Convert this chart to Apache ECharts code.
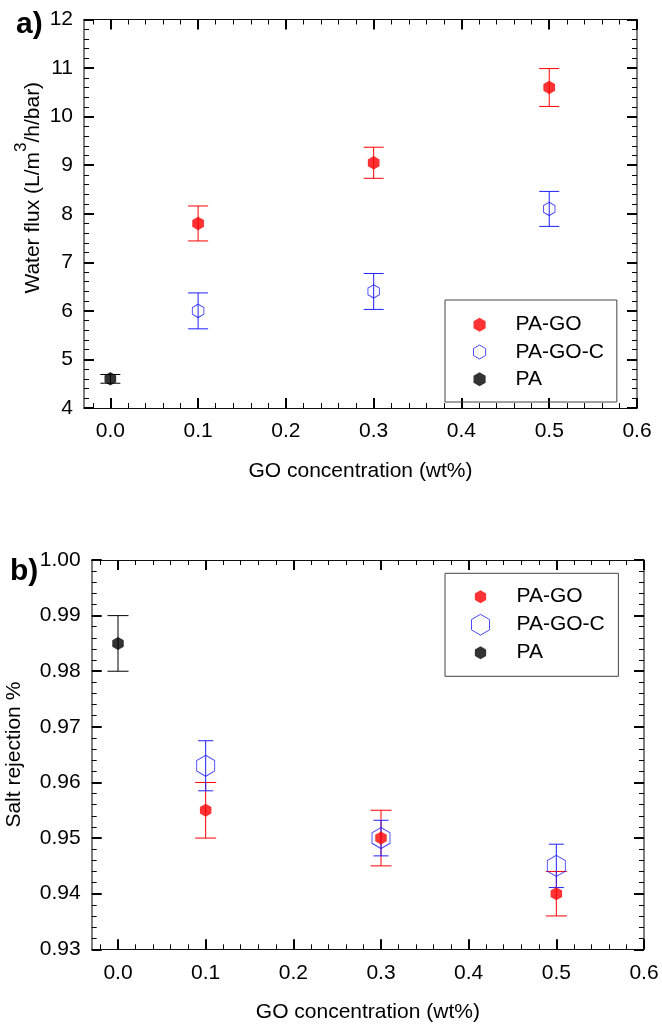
<!DOCTYPE html>
<html>
<head>
<meta charset="utf-8">
<script src="https://cdn.jsdelivr.net/npm/echarts@6/dist/echarts.min.js"></script>
<style>
html,body{margin:0;padding:0;background:#fff;}
#chart{width:662px;height:1026px;}
</style>
</head>
<body>
<div id="chart"></div>
<script>
// ---- data ----
const concGO = [0.1, 0.3, 0.5];
const concPA = [0.0];

// a) water flux
const fluxPAGO = [7.8, 9.05, 10.6];
const fluxPAGOErr = [0.36, 0.32, 0.39];
const fluxPAGOC = [6.0, 6.4, 8.1];
const fluxPAGOCErr = [0.37, 0.37, 0.36];
const fluxPA = [4.6];
const fluxPAErr = [0.09];

// b) salt rejection
const rejPAGO = [0.955, 0.950, 0.940];
const rejPAGOErr = [0.005, 0.005, 0.004];
const rejPAGOC = [0.963, 0.950, 0.945];
const rejPAGOCErr = [0.0045, 0.0032, 0.0039];
const rejPA = [0.985];
const rejPAErr = [0.005];

// ticks
const xMajorTicks = [0, 0.1, 0.2, 0.3, 0.4, 0.5, 0.6];
const xMinorTicks = [-0.02, 0.02, 0.04, 0.06, 0.08, 0.12, 0.14, 0.16, 0.18, 0.22, 0.24, 0.26, 0.28,
  0.32, 0.34, 0.36, 0.38, 0.42, 0.44, 0.46, 0.48, 0.52, 0.54, 0.56, 0.58];
const legendNames = ['PA-GO', 'PA-GO-C', 'PA'];

// ---- styling ----
const FONT = '"Liberation Sans", Arial, sans-serif';
const RED = '#ff0000', BLUE = '#2020ff', BLACK = '#000000';
const hexPath = 'path://M0,-10L8.66,-5L8.66,5L0,10L-8.66,5L-8.66,-5Z';
const hexSmallPadded = 'path://M-9,-10.5M9,10.5M0,-6.5L5.63,-3.25L5.63,3.25L0,6.5L-5.63,3.25L-5.63,-3.25Z';

function pts(xs, ys) { return xs.map((x, i) => [x, ys[i]]); }
function errData(xs, ys, es) { return xs.map((x, i) => [x, ys[i] - es[i], ys[i] + es[i]]); }

function errRender(capHalf, color) {
  return function (params, api) {
    const x = api.value(0), lo = api.value(1), hi = api.value(2);
    const pHi = api.coord([x, hi]);
    const pLo = api.coord([x, lo]);
    const st = { stroke: color, lineWidth: 1 };
    return {
      type: 'group',
      children: [
        { type: 'line', shape: { x1: pHi[0], y1: pHi[1], x2: pLo[0], y2: pLo[1] }, style: st },
        { type: 'line', shape: { x1: pHi[0] - capHalf, y1: pHi[1], x2: pHi[0] + capHalf, y2: pHi[1] }, style: st },
        { type: 'line', shape: { x1: pLo[0] - capHalf, y1: pLo[1], x2: pLo[0] + capHalf, y2: pLo[1] }, style: st }
      ]
    };
  };
}

const hLine = { color: '#111', width: 1.2 };
const vLine = { color: '#555', width: 1.5 };

function xAxes(gridIndex, nameGap) {
  const common = { type: 'value', gridIndex: gridIndex, min: -0.03, max: 0.6, splitLine: { show: false } };
  return [
    Object.assign({}, common, {
      position: 'bottom',
      axisLine: { show: true, onZero: false, lineStyle: hLine },
      axisTick: { show: true, inside: true, length: 10, customValues: xMajorTicks, lineStyle: { color: '#000', width: 2 } },
      axisLabel: { show: true, customValues: xMajorTicks, formatter: v => Number(v).toFixed(1), margin: 13, fontSize: 21, color: '#000', fontFamily: FONT },
      name: 'GO concentration (wt%)', nameLocation: 'middle', nameGap: nameGap, nameMoveOverlap: false,
      nameTextStyle: { fontSize: 21, color: '#000', fontFamily: FONT }
    }),
    Object.assign({}, common, {
      position: 'bottom',
      axisLine: { show: false, onZero: false },
      axisTick: { show: true, inside: true, length: 5, customValues: xMinorTicks, lineStyle: { color: '#000', width: 1 } },
      axisLabel: { show: false }
    }),
    Object.assign({}, common, {
      position: 'top',
      axisLine: { show: true, onZero: false, lineStyle: hLine },
      axisTick: { show: true, inside: true, length: 10, customValues: xMajorTicks, lineStyle: { color: '#000', width: 2 } },
      axisLabel: { show: false }
    }),
    Object.assign({}, common, {
      position: 'top',
      axisLine: { show: false, onZero: false },
      axisTick: { show: true, inside: true, length: 5, customValues: xMinorTicks, lineStyle: { color: '#000', width: 1 } },
      axisLabel: { show: false }
    })
  ];
}

function yAxes(gridIndex, min, max, interval, digits, name, nameGap, nameStyle) {
  const common = {
    type: 'value', gridIndex: gridIndex, min: min, max: max, interval: interval,
    splitLine: { show: false },
    axisTick: { show: true, inside: true, length: 10, lineStyle: { color: '#000', width: 2 } },
    minorTick: { show: true, splitNumber: 5, length: 5, lineStyle: { color: '#000', width: 1 } }
  };
  return [
    Object.assign({}, common, {
      position: 'left',
      axisLine: { show: true, onZero: false, lineStyle: vLine },
      axisLabel: { show: true, formatter: v => Number(v).toFixed(digits), margin: 11, fontSize: 21, color: '#000', fontFamily: FONT },
      name: name, nameLocation: 'middle', nameRotate: 90, nameGap: nameGap, nameMoveOverlap: false, nameTextStyle: nameStyle
    }),
    Object.assign({}, common, {
      position: 'right',
      axisLine: { show: true, onZero: false, lineStyle: vLine },
      axisLabel: { show: false }
    })
  ];
}

function seriesFor(xi, yi, goY, goE, gocY, gocE, paY, paE, sizes) {
  return [
    { type: 'custom', name: 'PA-GO error', xAxisIndex: xi, yAxisIndex: yi, renderItem: errRender(sizes.capRed, RED), data: errData(concGO, goY, goE), encode: { x: 0, y: [1, 2] }, z: 2 },
    { type: 'custom', name: 'PA-GO-C error', xAxisIndex: xi, yAxisIndex: yi, renderItem: errRender(sizes.capBlue, BLUE), data: errData(concGO, gocY, gocE), encode: { x: 0, y: [1, 2] }, z: 2 },
    { type: 'custom', name: 'PA error', xAxisIndex: xi, yAxisIndex: yi, renderItem: errRender(sizes.capBlack, BLACK), data: errData(concPA, paY, paE), encode: { x: 0, y: [1, 2] }, z: 2 },
    { type: 'scatter', name: 'PA-GO-C', xAxisIndex: xi, yAxisIndex: yi, symbol: hexPath, symbolSize: sizes.blue, data: pts(concGO, gocY),
      itemStyle: { color: 'rgba(0,0,0,0)', borderColor: BLUE, borderWidth: 1 }, z: 3 },
    { type: 'scatter', name: 'PA-GO', xAxisIndex: xi, yAxisIndex: yi, symbol: hexPath, symbolSize: sizes.filled, data: pts(concGO, goY),
      itemStyle: { color: RED }, z: 4 },
    { type: 'scatter', name: 'PA', xAxisIndex: xi, yAxisIndex: yi, symbol: hexPath, symbolSize: sizes.filled, data: pts(concPA, paY),
      itemStyle: { color: BLACK }, z: 4 }
  ];
}

function legendFor(left, top, iw, ih, padding, textPadLeft, gap, iconFilled, iconHollow) {
  const styles = [
    { color: RED, borderWidth: 0 },
    { color: 'rgba(0,0,0,0)', borderColor: BLUE, borderWidth: 1 },
    { color: BLACK, borderWidth: 0 }
  ];
  return {
    left: left, top: top, orient: 'vertical',
    itemWidth: iw, itemHeight: ih, itemGap: gap,
    padding: padding,
    borderColor: '#444', borderWidth: 1,
    selectedMode: false,
    textStyle: { fontSize: 21, color: '#000', fontFamily: FONT, lineHeight: 22, padding: [0, 0, 0, textPadLeft] },
    data: legendNames.map((n, i) => ({ name: n, icon: i === 1 ? iconHollow : iconFilled, itemStyle: styles[i] }))
  };
}

const chart = echarts.init(document.getElementById('chart'), null, { renderer: 'canvas' });
const option = {
  animation: false,
  backgroundColor: '#ffffff',
  title: [
    { text: 'a)', left: 11, top: 5, textStyle: { fontSize: 30, fontWeight: 'bold', color: '#000', fontFamily: FONT } },
    { text: 'b)', left: 5, top: 552, textStyle: { fontSize: 30, fontWeight: 'bold', color: '#000', fontFamily: FONT } }
  ],
  grid: [
    { left: 84, right: 25, top: 19.5, bottom: 618, outerBoundsMode: 'none' },
    { left: 91.7, right: 18, top: 560, bottom: 76.7, outerBoundsMode: 'none' }
  ],
  xAxis: xAxes(0, 53).concat(xAxes(1, 52)),
  yAxis: yAxes(0, 4, 12, 1, 0, 'Water flux (L/m{sup|3}/h/bar)', 31, {
    fontSize: 21, color: '#000', fontFamily: FONT, lineHeight: 40, padding: [0, 0, 0, 52],
    rich: { sup: { fontSize: 17, lineHeight: 17, verticalAlign: 'top', color: '#000', fontFamily: FONT } }
  }).concat(yAxes(1, 0.93, 1.0, 0.01, 2, 'Salt rejection %', 67, { fontSize: 21, color: '#000', fontFamily: FONT })),
  legend: [
    legendFor(445, 300, 14, 14, [13.7, 13, 11.7, 28], 24, 5.3, hexPath, hexPath),
    legendFor(445, 573.3, 18, 21, [12.4, 13.6, 12.6, 26], 22, 6, hexSmallPadded, hexPath)
  ],
  series: seriesFor(0, 0, fluxPAGO, fluxPAGOErr, fluxPAGOC, fluxPAGOCErr, fluxPA, fluxPAErr,
      { filled: [11.7, 13.5], blue: [11.5, 13.3], capRed: 10, capBlue: 10, capBlack: 10 })
    .concat(seriesFor(4, 2, rejPAGO, rejPAGOErr, rejPAGOC, rejPAGOCErr, rejPA, rejPAErr,
      { filled: [11.5, 13], blue: [18, 21], capRed: 10.5, capBlue: 7.5, capBlack: 10.5 }))
};
chart.setOption(option);
</script>
</body>
</html>
